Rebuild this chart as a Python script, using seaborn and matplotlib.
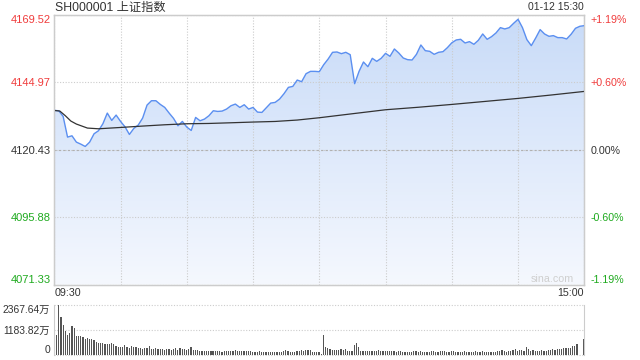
import numpy as np
import pandas as pd
import matplotlib
matplotlib.use("Agg")
import matplotlib.pyplot as plt
import seaborn as sns
from matplotlib.colors import LinearSegmentedColormap

sns.set_style("white")
plt.rcParams['font.family'] = ['Liberation Sans', 'Noto Sans CJK SC', 'DejaVu Sans']
plt.rcParams['axes.unicode_minus'] = False

# ---------------- data ----------------
title = "SH000001 上证指数"
stamp = "01-12 15:30"
time_labels = ["09:30", "15:00"]

price_ticks = [4071.33, 4095.88, 4120.43, 4144.97, 4169.52]
pct_labels = ["-1.19%", "-0.60%", "0.00%", "+0.60%", "+1.19%"]
prev_close = 4120.43

# price sampled every 2 minutes of the 240-minute session
price_minutes = np.arange(0, 241, 2)
price_values = [
    4134.77, 4134.65, 4132.59, 4125.05, 4125.53, 4123.22, 4122.49, 4121.64, 4123.22, 4126.26,
    4127.36, 4129.91, 4133.80, 4131.13, 4133.07, 4130.76, 4128.82, 4126.02, 4128.21, 4129.43,
    4131.98, 4136.72, 4138.30, 4138.30, 4136.96, 4135.87, 4133.80, 4131.86, 4129.18, 4130.76,
    4128.70, 4127.47, 4132.22, 4131.00, 4131.61, 4132.82, 4134.65, 4134.40, 4134.53, 4135.26,
    4136.47, 4137.08, 4135.86, 4136.84, 4135.26, 4135.86, 4134.16, 4134.04, 4135.74, 4137.44,
    4137.69, 4138.90, 4140.85, 4143.16, 4143.52, 4145.83, 4145.23, 4148.14, 4148.99, 4148.99,
    4148.87, 4151.43, 4153.49, 4155.93, 4156.05, 4155.44, 4155.93, 4155.07, 4144.50, 4148.99,
    4152.40, 4150.70, 4153.74, 4152.64, 4153.74, 4155.56, 4154.47, 4157.14, 4155.68, 4153.86,
    4153.25, 4153.13, 4155.20, 4158.60, 4156.53, 4156.29, 4155.20, 4155.93, 4156.17, 4157.63,
    4159.40, 4160.43, 4160.67, 4159.33, 4159.82, 4158.85, 4160.30, 4162.61, 4160.67, 4161.64,
    4162.98, 4164.92, 4164.44, 4164.92, 4166.50, 4167.96, 4164.92, 4160.55, 4158.36, 4161.16,
    4164.20, 4162.61, 4161.76, 4162.01, 4161.28, 4161.28, 4160.79, 4162.49, 4164.68, 4165.41,
    4165.65,
]

avg_minutes = [0, 2.5, 5, 7.5, 10, 15, 20, 30, 40, 50, 60, 70, 80, 90, 100, 110, 120,
               135, 150, 165, 180, 195, 210, 225, 240]
avg_values = [4134.76, 4134.54, 4132.83, 4130.89, 4129.80, 4128.34, 4128.08, 4128.56,
              4129.07, 4129.54, 4129.91, 4130.02, 4130.27, 4130.53, 4130.75, 4131.26,
              4132.10, 4133.56, 4135.01, 4135.93, 4136.95, 4138.04, 4139.14, 4140.38,
              4141.69]

vol_ticks = [0, 1183.82, 2367.64]
vol_labels = ["0", "1183.82万", "2367.64万"]
vol_minutes = np.arange(1, 241)
vol_values = [
    960, 2360, 1800, 1440, 1150, 960, 1030, 1390, 1300, 920,
    920, 920, 870, 775, 820, 775, 775, 710, 630, 585,
    585, 585, 540, 540, 540, 585, 540, 440, 395, 395,
    395, 490, 395, 350, 440, 395, 395, 350, 350, 300,
    350, 350, 440, 300, 300, 350, 300, 300, 300, 255,
    300, 300, 255, 300, 350, 255, 350, 300, 300, 255,
    300, 395, 255, 255, 255, 205, 205, 205, 205, 205,
    205, 205, 205, 205, 205, 160, 205, 205, 205, 205,
    205, 240, 205, 205, 205, 205, 205, 205, 205, 160,
    160, 160, 205, 160, 160, 160, 160, 160, 160, 160,
    160, 160, 160, 205, 255, 205, 160, 160, 160, 205,
    205, 255, 205, 255, 255, 255, 160, 160, 160, 160,
    30, 960, 395, 350, 300, 255, 255, 255, 255, 300,
    255, 300, 205, 205, 205, 490, 585, 395, 205, 205,
    205, 205, 205, 205, 205, 205, 255, 205, 205, 205,
    205, 205, 205, 205, 160, 205, 205, 160, 160, 160,
    160, 160, 205, 205, 160, 205, 160, 160, 160, 160,
    205, 205, 160, 160, 205, 205, 205, 160, 160, 205,
    205, 160, 160, 160, 160, 205, 160, 160, 125, 160,
    205, 160, 160, 205, 160, 160, 160, 160, 160, 160,
    205, 205, 255, 205, 160, 205, 205, 255, 300, 205,
    255, 255, 205, 395, 300, 205, 255, 205, 205, 205,
    255, 205, 205, 255, 255, 300, 255, 300, 300, 300,
    350, 350, 350, 350, 440, 440, 540, 20, 20, 775,
]

# ---------------- colours ----------------
RED = "#f03c3c"
GREEN = "#1faa1f"
DARK = "#333333"
GRID = "#cccccc"
LINE = "#5b8ff0"

W, H = 640, 360
fig = plt.figure(figsize=(6.4, 3.6), dpi=100)
L, R = 54.3, 584.3
ax = fig.add_axes([L / W, 1 - 284.6 / H, (R - L) / W, (284.6 - 15.0) / H])
axv = fig.add_axes([L / W, 1 - 355 / H, (R - L) / W, 50 / H])

ymin, ymax = price_ticks[0], price_ticks[-1]
df = pd.DataFrame({"minute": price_minutes, "price": price_values})

# gradient fill under the price line
grad = np.linspace(1, 0, 256).reshape(-1, 1)
cmap = LinearSegmentedColormap.from_list("g", ["#f5f8fe", "#c8dbf8"])
im = ax.imshow(grad, extent=[0, 240, ymin, ymax], aspect="auto", cmap=cmap,
               origin="upper", vmin=0, vmax=1, zorder=1)
poly = ax.fill_between(df["minute"], df["price"], ymin, facecolor="none",
                       edgecolor="none")
im.set_clip_path(poly.get_paths()[0], transform=ax.transData)

sns.lineplot(data=df, x="minute", y="price", ax=ax, color=LINE, linewidth=1.0,
             zorder=3)
sns.lineplot(x=avg_minutes, y=avg_values, ax=ax, color=DARK, linewidth=0.9,
             zorder=3)
ax.axhline(prev_close, color="#b0b0b0", linestyle=(0, (2, 2)), linewidth=0.8,
           zorder=1.6)

ax.set_xlim(0, 240)
ax.set_ylim(ymin, ymax)
ax.set_xlabel("")
ax.set_ylabel("")
ax.set_xticks(np.arange(0, 241, 30))
ax.set_xticklabels([])
ax.set_yticks(price_ticks)
ax.set_yticklabels([f"{v:.2f}" for v in price_ticks], fontsize=8)
ax.tick_params(axis="both", length=0)
ax.tick_params(axis="y", pad=2.5)
ax.set_axisbelow("line")
ax.grid(True, color=GRID, linestyle=(0, (1, 1.5)), linewidth=0.8)
for s in ax.spines.values():
    s.set_color(GRID)
    s.set_linewidth(1.0)

left_colors = [GREEN, GREEN, DARK, RED, RED]
for lab, c in zip(ax.get_yticklabels(), left_colors):
    lab.set_color(c)
labs = ax.get_yticklabels()
labs[0].set_va("bottom")
labs[-1].set_va("top")

ax2 = ax.twinx()
ax2.set_ylim(ymin, ymax)
ax2.set_yticks(price_ticks)
ax2.set_yticklabels(pct_labels, fontsize=7.7)
ax2.tick_params(axis="y", length=0, pad=4.5)
for s in ax2.spines.values():
    s.set_color(GRID)
for lab, c in zip(ax2.get_yticklabels(), left_colors):
    lab.set_color(c)
labs2 = ax2.get_yticklabels()
labs2[0].set_va("bottom")
labs2[-1].set_va("top")

# volume panel
sns.barplot(x=vol_minutes, y=vol_values, native_scale=True, ax=axv,
            color="#555555", width=0.55, saturation=1, errorbar=None,
            linewidth=0)
axv.set_xlim(0, 240.3)
axv.set_ylim(0, vol_ticks[-1])
axv.set_xlabel("")
axv.set_ylabel("")
axv.set_xticks([])
axv.set_yticks(vol_ticks)
axv.set_yticklabels(vol_labels, fontsize=7.4, color=DARK)
axv.tick_params(axis="y", length=0, pad=3)
axv.grid(True, axis="y", color=GRID, linestyle=(0, (1, 1.5)), linewidth=0.8)
for gl in axv.get_ygridlines():
    gl.set_clip_on(False)
axv.spines["top"].set_visible(False)
axv.spines["bottom"].set_visible(False)
axv.spines["left"].set_color(GRID)
axv.spines["right"].set_color(GRID)
vl = axv.get_yticklabels()
vl[0].set_va("bottom")
vl[-1].set_va("top")

# texts
fig.text(55 / W, 1 - 7.5 / H, title, ha="left", va="center", fontsize=8.8,
         color=DARK)
fig.text(584 / W, 1 - 7.5 / H, stamp, ha="right", va="center", fontsize=7.5,
         color=DARK)
fig.text(55 / W, 1 - 293 / H, time_labels[0], ha="left", va="center",
         fontsize=7.7, color=DARK)
fig.text(584 / W, 1 - 293 / H, time_labels[1], ha="right", va="center",
         fontsize=7.7, color=DARK)
fig.text(552 / W, 1 - 279 / H, "sina.com", ha="center", va="center",
         fontsize=7.7, color="#cfcfcf")

fig.savefig("out.png", dpi=100)
